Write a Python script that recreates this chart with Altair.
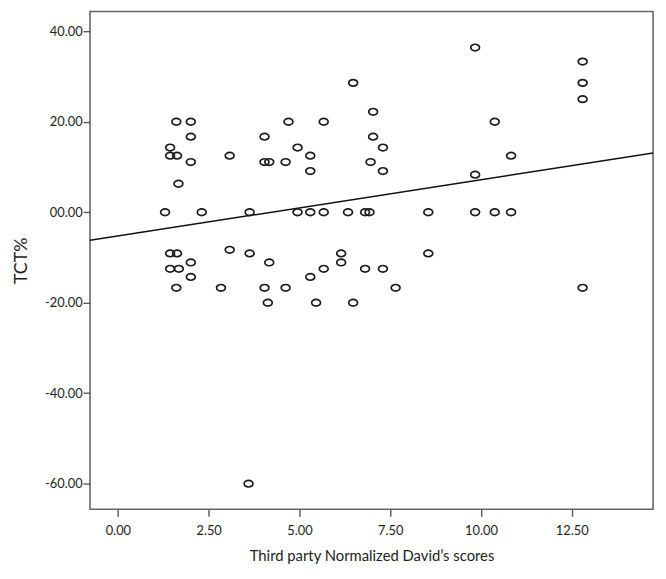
import altair as alt
import pandas as pd

# Third party Normalized David's scores (x) and TCT% (y)
score = [1.30, 1.44, 1.44, 1.44, 1.44,
         1.61, 1.63, 1.67, 1.63, 1.68, 1.61,
         2.01, 2.01, 2.01, 2.01, 2.01,
         2.31, 2.84, 3.08, 3.08,
         3.63, 3.63, 3.60,
         4.04, 4.04, 4.04,
         4.17, 4.17, 4.13,
         4.62, 4.62, 4.70,
         4.95, 4.95,
         5.30, 5.30, 5.30, 5.30,
         5.46, 5.67, 5.67, 5.67,
         6.15, 6.15, 6.34, 6.48, 6.48,
         6.81, 6.81, 6.96, 6.93,
         7.03, 7.03, 7.30, 7.30, 7.30, 7.65,
         8.55, 8.55,
         9.84, 9.84, 9.84,
         10.38, 10.38, 10.83, 10.83,
         12.80, 12.80, 12.80, 12.80]
tct = [0.0, 14.3, 12.5, -9.1, -12.5,
       20.0, 12.5, 6.3, -9.1, -12.5, -16.7,
       20.0, 16.7, 11.1, -11.1, -14.3,
       0.0, -16.7, 12.5, -8.3,
       0.0, -9.1, -60.0,
       16.7, 11.1, -16.7,
       11.1, -11.1, -20.0,
       11.1, -16.7, 20.0,
       14.3, 0.0,
       12.5, 9.1, 0.0, -14.3,
       -20.0, 20.0, 0.0, -12.5,
       -9.1, -11.1, 0.0, 28.6, -20.0,
       0.0, -12.5, 11.1, 0.0,
       22.2, 16.7, 14.3, 9.1, -12.5, -16.7,
       0.0, -9.1,
       36.4, 8.3, 0.0,
       20.0, 0.0, 12.5, 0.0,
       33.3, 28.6, 25.0, -16.7]

# fitted line
fit_intercept = -5.25
fit_slope = 1.245

x_domain = [-0.767, 14.74]
y_domain = [-65.66, 44.39]
x_ticks = [0, 2.5, 5, 7.5, 10, 12.5]
y_ticks = [-60, -40, -20, 0, 20, 40]

df = pd.DataFrame({"x": score, "y": tct})
fit_df = pd.DataFrame({
    "x": x_domain,
    "y": [fit_intercept + fit_slope * v for v in x_domain],
})

FONT = "Lato"

xscale = alt.Scale(domain=x_domain, nice=False, zero=False)
yscale = alt.Scale(domain=y_domain, nice=False, zero=False)

xaxis = alt.Axis(values=x_ticks, format=".2f", title="Third party Normalized David\u2019s scores",
                 grid=False, domain=False, tickSize=7, tickColor="#555", tickWidth=1.4,
                 labelFontSize=13, labelColor="#222", labelFont=FONT, labelPadding=9,
                 titleFontSize=15, titleColor="#222", titleFont=FONT, titleFontWeight="normal",
                 titlePadding=11)
yaxis = alt.Axis(values=y_ticks,
                 labelExpr="datum.value == 0 ? '00.00' : (datum.value < 0 ? '-' + format(-datum.value, '.2f') : format(datum.value, '.2f'))",
                 title="TCT%", grid=False, domain=False, tickSize=7, tickColor="#555", tickWidth=1.4,
                 labelFontSize=13, labelColor="#222", labelFont=FONT, labelPadding=1,
                 titleFontSize=18, titleColor="#222", titleFont=FONT, titleFontWeight="normal",
                 titleX=-69, titleY=252, titleAngle=270, titleAlign="center", titleBaseline="middle")

ellipse = "M -1 0 A 1 0.75 0 1 0 1 0 A 1 0.75 0 1 0 -1 0 Z"

points = alt.Chart(df).mark_point(shape=ellipse, size=80, filled=False, color="#1a1a1a",
                                  strokeWidth=1.7, opacity=1).encode(
    x=alt.X("x:Q", scale=xscale, axis=xaxis),
    y=alt.Y("y:Q", scale=yscale, axis=yaxis),
)

line = alt.Chart(fit_df).mark_line(color="#111", strokeWidth=1.5, clip=True).encode(
    x=alt.X("x:Q", scale=xscale),
    y=alt.Y("y:Q", scale=yscale),
)

chart = alt.layer(line, points).properties(
    width=570, height=504,
    autosize=alt.AutoSizeParams(type="none"),
    padding={"left": 83, "top": 0, "right": 5, "bottom": 60},
    background="white",
).configure_view(stroke="#666", strokeWidth=1.6)

chart.save("out.html", embed_options={"renderer": "svg", "actions": False})
